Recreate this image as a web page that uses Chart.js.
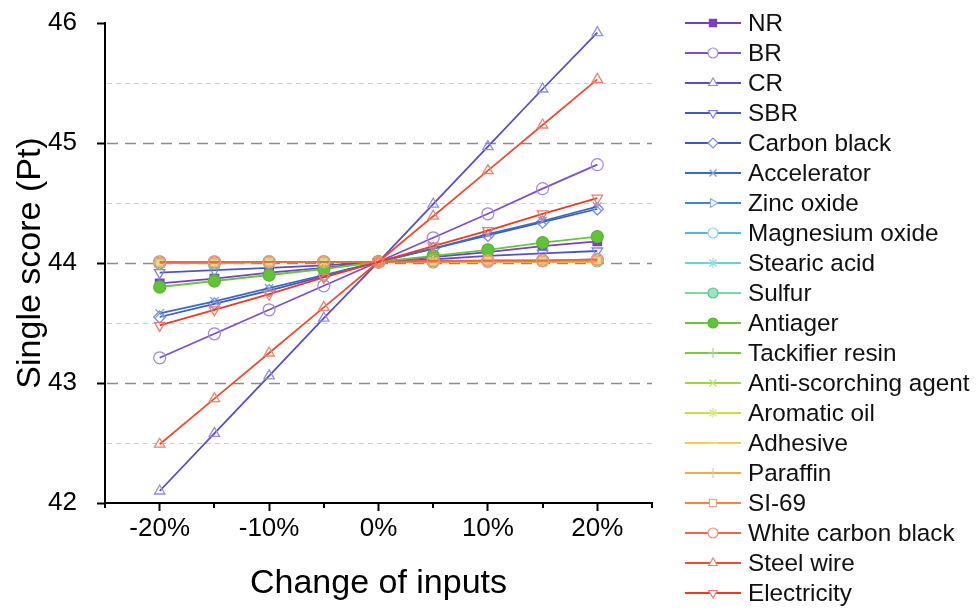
<!DOCTYPE html>
<html>
<head>
<meta charset="utf-8">
<script src="https://cdn.jsdelivr.net/npm/chart.js@4.4.0/dist/chart.umd.min.js"></script>
<style>
    body { margin: 0; background: #fff; font-family: Arial, "Liberation Sans", sans-serif; }
    #wrap { position: relative; width: 977px; height: 610px; }
    #chartBox { position: absolute; left: 0; top: 0; width: 660px; height: 610px; }
    #legend { position: absolute; left: 684px; top: 8px; }
    .item { height: 30px; display: flex; align-items: center; }
    .item canvas { width: 58px; height: 20px; margin-right: 6px; }
    .item span { font-size: 24.3px; color: #111; white-space: nowrap; }
</style>
</head>
<body>
<div id="wrap">
    <div id="chartBox"><canvas id="sensChart"></canvas></div>
    <div id="legend"></div>
</div>
<script>
// change of inputs (%)
const changes = [-20, -15, -10, -5, 0, 5, 10, 15, 20];

// single score (Pt) for each input
const NR = [43.83, 43.87, 43.92, 43.96, 44.01, 44.05, 44.09, 44.14, 44.18];
const BR = [43.21, 43.41, 43.61, 43.81, 44.01, 44.21, 44.41, 44.62, 44.82];
const CR = [42.10, 42.58, 43.06, 43.54, 44.01, 44.49, 44.97, 45.45, 45.92];
const SBR = [43.92, 43.94, 43.96, 43.98, 44.01, 44.03, 44.06, 44.08, 44.10];
const carbonBlack = [43.55, 43.66, 43.77, 43.89, 44.01, 44.12, 44.23, 44.34, 44.45];
const accelerator = [43.58, 43.68, 43.79, 43.90, 44.01, 44.12, 44.24, 44.35, 44.47];
const zincOxide = [44.00, 44.00, 44.01, 44.01, 44.01, 44.01, 44.02, 44.02, 44.03];
const magnesiumOxide = [44.01, 44.01, 44.01, 44.01, 44.01, 44.01, 44.01, 44.02, 44.02];
const stearicAcid = [44.00, 44.01, 44.01, 44.01, 44.01, 44.01, 44.01, 44.02, 44.02];
const sulfur = [44.00, 44.00, 44.01, 44.01, 44.01, 44.01, 44.02, 44.02, 44.02];
const antiager = [43.80, 43.85, 43.90, 43.95, 44.01, 44.06, 44.11, 44.17, 44.22];
const tackifierResin = [44.01, 44.01, 44.01, 44.01, 44.01, 44.01, 44.01, 44.01, 44.02];
const antiScorching = [44.01, 44.01, 44.01, 44.01, 44.01, 44.01, 44.01, 44.01, 44.01];
const aromaticOil = [44.00, 44.00, 44.01, 44.01, 44.01, 44.01, 44.02, 44.02, 44.02];
const adhesive = [44.00, 44.01, 44.01, 44.01, 44.01, 44.01, 44.01, 44.02, 44.02];
const paraffin = [44.01, 44.01, 44.01, 44.01, 44.01, 44.01, 44.01, 44.01, 44.01];
const si69 = [44.00, 44.00, 44.01, 44.01, 44.01, 44.01, 44.02, 44.02, 44.02];
const whiteCarbonBlack = [44.01, 44.01, 44.01, 44.01, 44.01, 44.02, 44.02, 44.02, 44.03];
const steelWire = [42.49, 42.87, 43.25, 43.63, 44.01, 44.39, 44.77, 45.15, 45.53];
const electricity = [43.48, 43.61, 43.74, 43.88, 44.01, 44.14, 44.27, 44.41, 44.54];

const seriesNames = ['NR', 'BR', 'CR', 'SBR', 'Carbon black', 'Accelerator', 'Zinc oxide',
    'Magnesium oxide', 'Stearic acid', 'Sulfur', 'Antiager', 'Tackifier resin',
    'Anti-scorching agent', 'Aromatic oil', 'Adhesive', 'Paraffin', 'SI-69',
    'White carbon black', 'Steel wire', 'Electricity'];
const seriesValues = [NR, BR, CR, SBR, carbonBlack, accelerator, zincOxide, magnesiumOxide,
    stearicAcid, sulfur, antiager, tackifierResin, antiScorching, aromaticOil, adhesive,
    paraffin, si69, whiteCarbonBlack, steelWire, electricity];

const yTicks = [42, 43, 44, 45, 46];
const xTicks = [-20, -10, 0, 10, 20];

// styles: [line colour, marker colour, marker fill, point style, rotation]
const styles = [
    ['#7B3FBF', '#7B3FBF', '#7B3FBF', 'rect', 0],
    ['#7F4FC9', '#9F8AE6', 'rgba(255,255,255,0)', 'circle', 0],
    ['#5B4DC2', '#8F8FEA', 'rgba(255,255,255,0)', 'triangle', 0],
    ['#4D55C2', '#7C86E4', 'rgba(255,255,255,0)', 'triangle', 180],
    ['#3E5BBE', '#7890E0', 'rgba(255,255,255,0)', 'rectRot', 0],
    ['#3A69C6', '#7A9AE6', 'rgba(255,255,255,0)', 'crossRot', 0],
    ['#3F86D6', '#7FB0EC', 'rgba(255,255,255,0)', 'triangle', 90],
    ['#55B6E6', '#8ED0F0', 'rgba(255,255,255,0)', 'circle', 0],
    ['#6ACFDC', '#8EDDE6', 'rgba(255,255,255,0)', 'star', 0],
    ['#74DCA6', '#5CC88E', '#9AE4BE', 'circle', 0],
    ['#6AC53E', '#58B830', '#62C23A', 'circle', 0],
    ['#7ACB3A', '#A0DC80', 'rgba(255,255,255,0)', 'cross', 0],
    ['#9AD83A', '#B8E47C', 'rgba(255,255,255,0)', 'crossRot', 0],
    ['#C6E23E', '#D6EC7C', 'rgba(255,255,255,0)', 'star', 0],
    ['#F5CB4A', '#F8DB88', 'rgba(255,255,255,0)', 'line', 0],
    ['#F8A848', '#FAC488', 'rgba(255,255,255,0)', 'line', 90],
    ['#F4843E', '#F6A27A', 'rgba(255,255,255,0)', 'rect', 0],
    ['#EF6443', '#F2907A', 'rgba(255,255,255,0)', 'circle', 0],
    ['#EE4C32', '#F2826E', 'rgba(255,255,255,0)', 'triangle', 0],
    ['#EC3A26', '#F07C6C', 'rgba(255,255,255,0)', 'triangle', 180]
];

const FONT = 'Arial, "Liberation Sans", sans-serif';

document.addEventListener('DOMContentLoaded', function() {
    buildChart();
    buildLegend();
});

// dashed horizontal grid lines (darker at whole numbers) and short minor x ticks
const gridPlugin = {
    id: 'dashedGrid',
    beforeDatasetsDraw(chart) {
        const {ctx, chartArea, scales} = chart;
        const y = scales.y, x = scales.x;
        ctx.save();
        y.ticks.forEach(function(t) {
            const v = t.value;
            if (v <= 42 || v >= 46) return;
            const py = Math.round(y.getPixelForValue(v)) + 0.5;
            const major = Number.isInteger(v);
            ctx.strokeStyle = major ? '#8c8c8c' : '#d0d0d0';
            ctx.lineWidth = major ? 1.6 : 1;
            ctx.setLineDash(major ? [11, 7] : [5, 4]);
            ctx.beginPath();
            ctx.moveTo(chartArea.left + 2, py);
            ctx.lineTo(chartArea.right, py);
            ctx.stroke();
        });
        ctx.setLineDash([]);
        ctx.strokeStyle = '#000';
        ctx.lineWidth = 2;
        x.ticks.forEach(function(t) {
            if (t.value % 10 === 0) return;
            const px = Math.round(x.getPixelForValue(t.value));
            ctx.beginPath();
            ctx.moveTo(px, chartArea.bottom);
            ctx.lineTo(px, chartArea.bottom + 5);
            ctx.stroke();
        });
        ctx.restore();
    }
};

function buildChart() {
    const n = seriesNames.length;
    const datasets = seriesNames.map(function(name, i) {
        const s = styles[i];
        return {
            label: name,
            data: changes.map(function(c, j) { return {x: c, y: seriesValues[i][j]}; }),
            borderColor: s[0],
            borderWidth: 1.8,
            pointStyle: s[3],
            rotation: s[4],
            pointRadius: 6,
            pointBorderColor: s[1],
            pointBackgroundColor: s[2],
            pointBorderWidth: 1.3,
            order: n - i
        };
    });

    const ctx = document.getElementById('sensChart').getContext('2d');
    new Chart(ctx, {
        type: 'line',
        data: { datasets: datasets },
        options: {
            responsive: true,
            maintainAspectRatio: false,
            animation: false,
            layout: { padding: { left: 8, top: 23, right: 8, bottom: 6 } },
            plugins: { legend: { display: false }, tooltip: { enabled: false } },
            elements: { line: { tension: 0 } },
            scales: {
                x: {
                    type: 'linear',
                    min: -25,
                    max: 25,
                    afterFit: function(scale) {
                        scale.height = 101;
                        scale.paddingLeft = 0;
                        scale.paddingRight = 0;
                    },
                    ticks: {
                        stepSize: 5,
                        color: '#000',
                        padding: 2,
                        maxRotation: 0,
                        minRotation: 0,
                        autoSkip: false,
                        font: { family: FONT, size: 26 },
                        callback: function(v) { return xTicks.includes(v) ? v + '%' : ''; }
                    },
                    grid: {
                        drawOnChartArea: false,
                        tickLength: 8,
                        tickWidth: 2,
                        tickColor: function(c) { return xTicks.includes(c.tick.value) ? '#000' : 'rgba(0,0,0,0)'; }
                    },
                    border: { color: '#000', width: 2 },
                    title: {
                        display: true,
                        text: 'Change of inputs',
                        color: '#000',
                        font: { family: FONT, size: 34 },
                        padding: { top: 4, bottom: 0 }
                    }
                },
                y: {
                    min: 42,
                    max: 46,
                    afterFit: function(scale) {
                        scale.width = 97;
                        scale.paddingTop = 0;
                        scale.paddingBottom = 0;
                    },
                    ticks: {
                        stepSize: 0.5,
                        color: '#000',
                        padding: 20,
                        autoSkip: false,
                        font: { family: FONT, size: 26 },
                        callback: function(v) { return yTicks.includes(v) ? v : ''; }
                    },
                    grid: {
                        drawOnChartArea: false,
                        tickLength: 8,
                        tickWidth: 2,
                        tickColor: function(c) { return yTicks.includes(c.tick.value) ? '#000' : 'rgba(0,0,0,0)'; }
                    },
                    border: { color: '#000', width: 2 },
                    title: {
                        display: true,
                        text: 'Single score (Pt)',
                        color: '#000',
                        font: { family: FONT, size: 34 },
                        padding: { top: 2, bottom: 4 }
                    }
                }
            }
        },
        plugins: [gridPlugin]
    });
}

function buildLegend() {
    const box = document.getElementById('legend');
    seriesNames.forEach(function(name, i) {
        const s = styles[i];
        const row = document.createElement('div');
        row.className = 'item';
        const cv = document.createElement('canvas');
        cv.width = 58;
        cv.height = 20;
        const c = cv.getContext('2d');
        c.strokeStyle = s[0];
        c.lineWidth = 1.8;
        c.beginPath();
        c.moveTo(1, 10);
        c.lineTo(57, 10);
        c.stroke();
        if (Chart.helpers && Chart.helpers.drawPoint) {
            c.strokeStyle = s[1];
            c.fillStyle = s[2] === 'rgba(255,255,255,0)' ? '#fff' : s[2];
            c.lineWidth = 1.2;
            Chart.helpers.drawPoint(c, { pointStyle: s[3], rotation: s[4], radius: 5, borderWidth: 1.2 }, 29, 10);
        }
        const label = document.createElement('span');
        label.textContent = name;
        row.appendChild(cv);
        row.appendChild(label);
        box.appendChild(row);
    });
}
</script>
</body>
</html>
